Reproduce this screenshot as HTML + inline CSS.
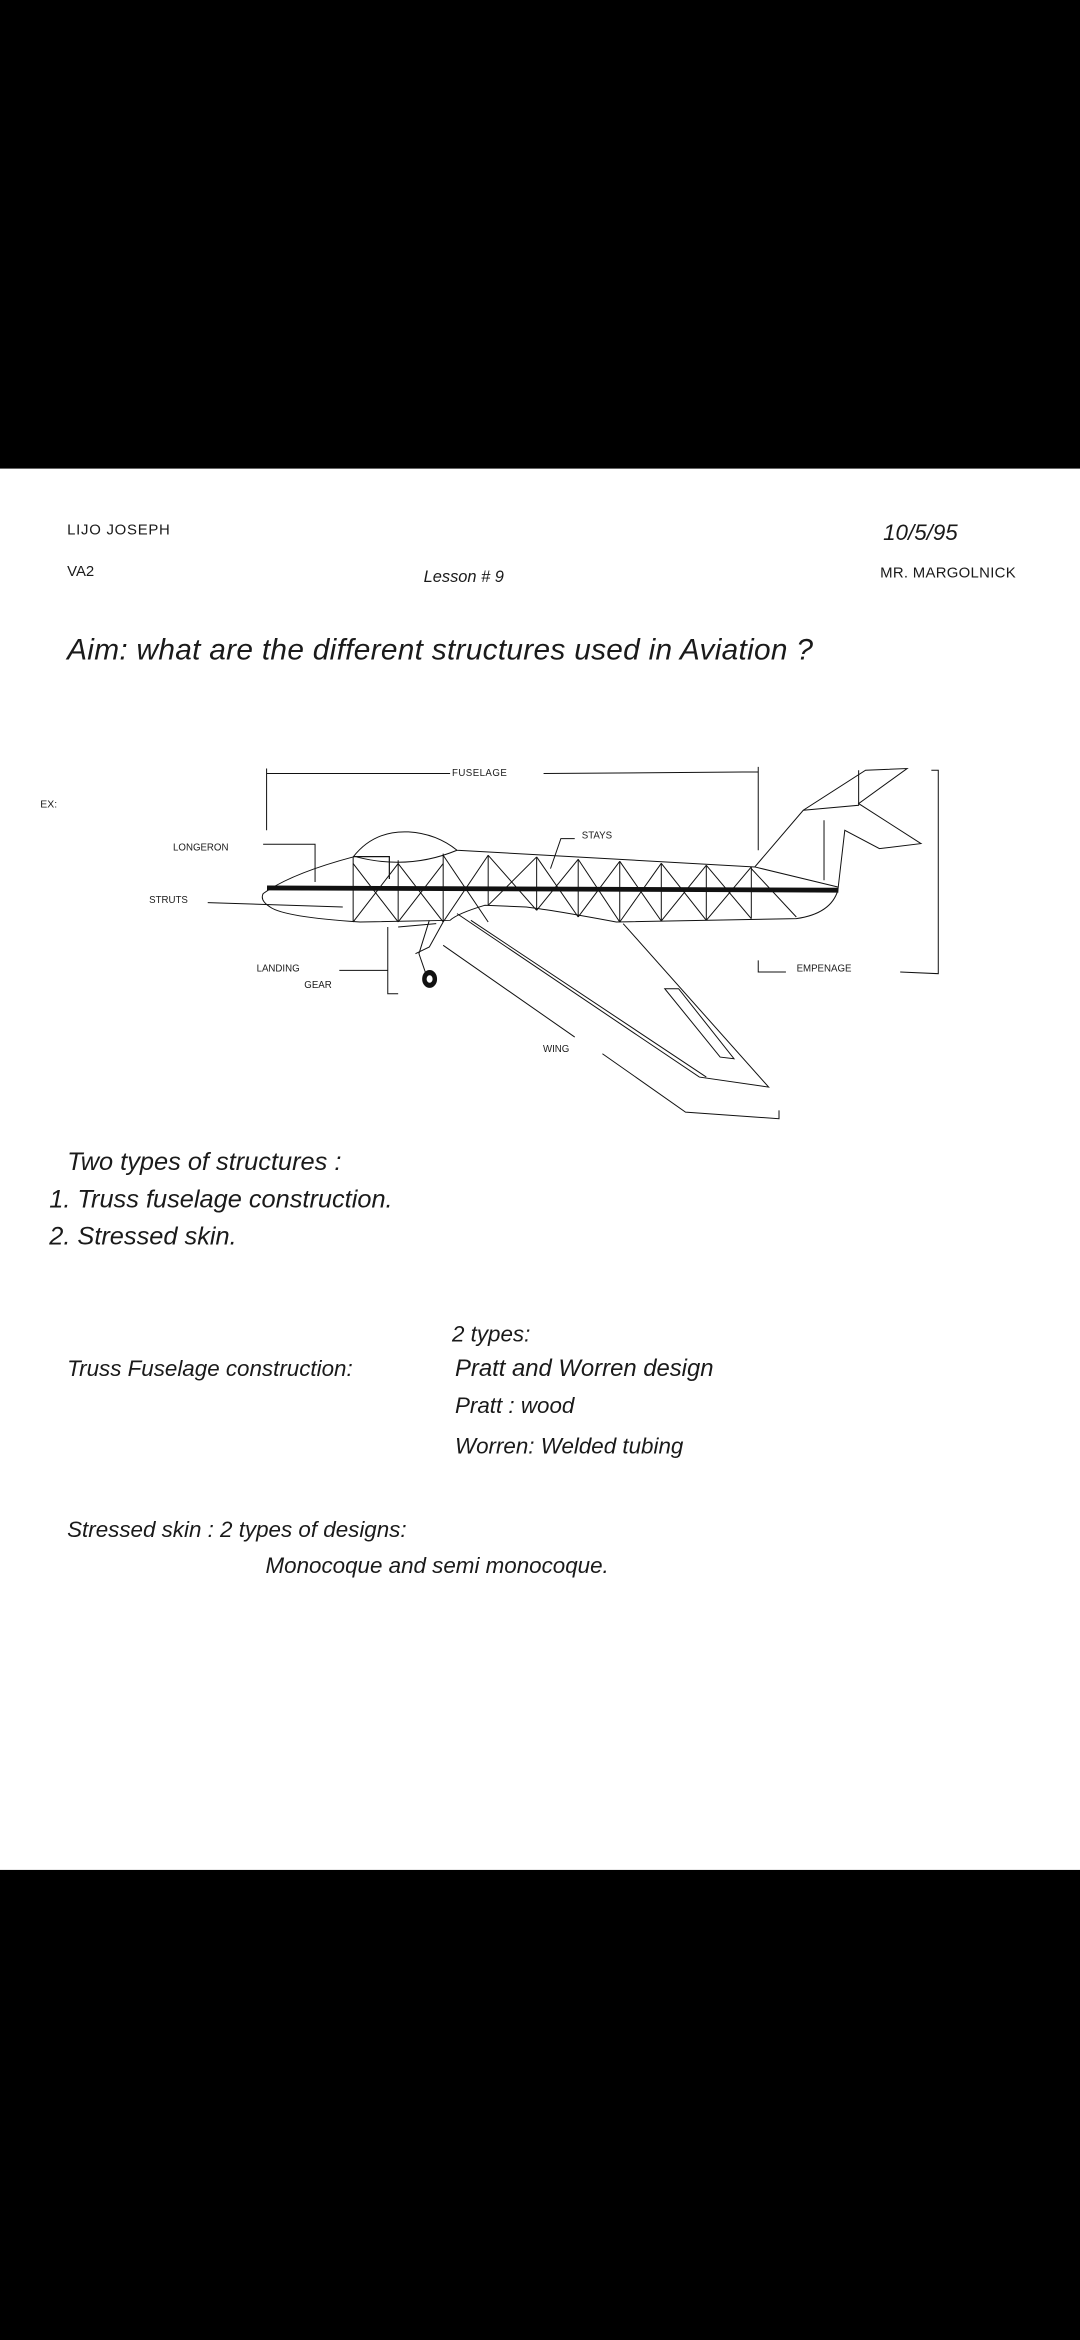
<!DOCTYPE html>
<html><head><meta charset="utf-8"><style>
html,body{margin:0;padding:0;background:#000;width:1080px;height:2340px;overflow:hidden}
svg{display:block}
text{font-family:"Liberation Sans",sans-serif;fill:#1a1a1a}
.h{font-style:italic;font-family:"Liberation Sans",sans-serif}
.lbl{font-size:6.5px;letter-spacing:0.3px}
</style></head><body>
<svg width="1080" height="2340" viewBox="0 0 724 1568" preserveAspectRatio="none" xmlns="http://www.w3.org/2000/svg">
<rect x="0" y="0" width="724" height="1568" fill="#000"/>
<rect x="0" y="314" width="724" height="939" fill="#fff"/>

<text x="45" y="358" font-size="10" letter-spacing="0.5">LIJO JOSEPH</text>
<text x="45" y="386" font-size="10">VA2</text>
<text x="284" y="390" font-size="11" class="h">Lesson # 9</text>
<text x="592" y="362" font-size="15" class="h">10/5/95</text>
<text x="590" y="387" font-size="10" letter-spacing="0.2">MR. MARGOLNICK</text>
<text x="45" y="442" font-size="20" class="h" textLength="500">Aim: what are the different structures used in Aviation ?</text>
<text x="27" y="541" font-size="7">EX:</text>

<g transform="matrix(0.4642,0,0,0.2235,0,496)" fill="none" stroke="#111" stroke-width="1">
 <g vector-effect="non-scaling-stroke">
 <path vector-effect="non-scaling-stroke" d="M385,270 L385,85 M385,100 L650,100 M785,100 L1095,95 M1095,80 L1095,330"/>
 <path vector-effect="non-scaling-stroke" d="M380,460 Q420,400 510,350 Q540,270 590,275 Q630,280 660,330 L1090,380 L1160,210 L1250,90 L1310,85 L1240,190 L1330,310 L1270,325 L1220,270 L1210,450 Q1200,520 1150,535 L890,545 Q800,510 760,500 L700,495 Q660,520 650,540 L520,545 Q410,530 390,500 Q375,480 380,460 Z"/>
 <path vector-effect="non-scaling-stroke" d="M1160,210 L1240,195 L1240,90 M1090,380 L1210,440 M1190,240 L1190,420 M515,350 Q590,390 660,330"/>
 <path vector-effect="non-scaling-stroke" d="M660,520 L1010,1010 L1110,1040 L900,550 M680,540 L1020,1010 M960,745 L980,745 L1060,955 L1040,950 Z"/>
 <path vector-effect="non-scaling-stroke" d="M640,615 L830,890 M870,940 L990,1115 L1125,1135 L1125,1110"/>
 <path vector-effect="non-scaling-stroke" d="M1345,90 L1355,90 L1355,700 L1300,695 M1095,660 L1095,695 L1135,695"/>
 <path vector-effect="non-scaling-stroke" d="M620,540 L605,640 L615,700 M640,545 L620,620 L600,640 M490,690 L560,690 M560,560 L560,760 L575,760 M575,560 L630,550"/>
 <path vector-effect="non-scaling-stroke" d="M380,312 L455,312 L455,425 M300,487 L495,500 M830,295 L810,295 L795,385"/>
 <path vector-effect="non-scaling-stroke" d="M510,350 L510,545 M575,360 L575,545 M640,340 L640,545 M705,345 L705,495 M775,350 L775,510 M835,357 L835,530 M895,363 L895,545 M955,369 L955,542 M1020,375 L1020,540 M1085,380 L1085,535"/>
 <path vector-effect="non-scaling-stroke" d="M510,370 L575,545 M575,370 L510,545 M575,370 L640,545 M640,370 L575,545 M640,345 L705,545 M705,345 L640,545 M705,345 L775,510 M775,350 L705,495 M775,350 L835,530 M835,357 L775,510 M835,357 L895,545 M895,363 L835,530 M895,363 L955,542 M955,369 L895,545 M955,369 L1020,540 M1020,375 L955,542 M1020,375 L1085,535 M1085,380 L1020,540 M1085,385 L1150,530"/>
 </g>
</g>
<!-- heavier members -->
<line x1="179" y1="595" x2="562" y2="596.5" stroke="#111" stroke-width="3.2"/>
<ellipse cx="288" cy="656" rx="5" ry="6" fill="#111"/>
<ellipse cx="288" cy="656" rx="2" ry="2.5" fill="#fff"/>
<path d="M237,574 L261,574 L261,589" fill="none" stroke="#111" stroke-width="0.8"/>

<text x="303" y="520" font-size="6.5" letter-spacing="0.3">FUSELAGE</text>
<text x="116" y="570" font-size="6.5">LONGERON</text>
<text x="100" y="605" font-size="6.5">STRUTS</text>
<text x="390" y="562" font-size="6.5">STAYS</text>
<text x="172" y="651" font-size="6.5">LANDING</text>
<text x="204" y="662" font-size="6.5">GEAR</text>
<text x="364" y="705" font-size="6.5">WING</text>
<text x="534" y="651" font-size="6.5">EMPENAGE</text>

<text x="45" y="784" font-size="17" class="h">Two types of structures :</text>
<text x="33" y="809" font-size="17" class="h">1. Truss fuselage construction.</text>
<text x="33" y="834" font-size="17" class="h">2. Stressed skin.</text>
<text x="303" y="899" font-size="15" class="h">2 types:</text>
<text x="45" y="922" font-size="15" class="h">Truss Fuselage construction:</text>
<text x="305" y="922" font-size="16" class="h">Pratt and Worren design</text>
<text x="305" y="947" font-size="15" class="h">Pratt : wood</text>
<text x="305" y="974" font-size="15" class="h">Worren: Welded tubing</text>
<text x="45" y="1030" font-size="15" class="h">Stressed skin : 2 types of designs:</text>
<text x="178" y="1054" font-size="15" class="h">Monocoque and semi monocoque.</text>
</svg>
</body></html>
